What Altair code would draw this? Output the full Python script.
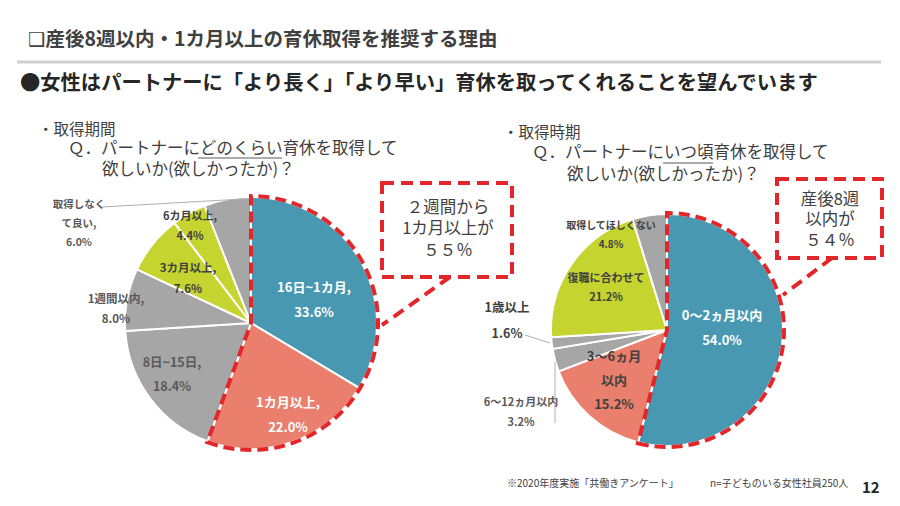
import altair as alt
import pandas as pd

FONT = "Noto Sans CJK JP, DejaVu Sans, sans-serif"
OX, OY = 8, 8  # page margin offset

# ---------------- data ----------------
left_categories = ["16日~1カ月", "1カ月以上", "8日~15日", "1週間以内", "3カ月以上", "6カ月以上", "取得しなくて良い"]
left_values = [33.6, 22.0, 18.4, 8.0, 7.6, 4.4, 6.0]
left_label_names = ["16日~1カ月,", "1カ月以上,", "8日~15日,", "1週間以内,", "3カ月以上,", "6カ月以上,", "取得しなく\nて良い,"]
left_highlight_n = 2

right_categories = ["0〜2ヵ月以内", "3〜6ヵ月以内", "6〜12ヵ月以内", "1歳以上", "復職に合わせて", "取得してほしくない"]
right_values = [54.0, 15.2, 3.2, 1.6, 21.2, 4.8]
right_label_names = ["0〜2ヵ月以内", "3〜6ヵ月\n以内", "6〜12ヵ月以内", "1歳以上", "復職に合わせて", "取得してほしくない"]
right_highlight_n = 1

# ---------------- styles ----------------
BLUE = "#4898b2"
SALMON = "#e97f6c"
GRAY = "#a6a6a6"
GREEN = "#c5d42e"
RED = "#e3262a"
DARK = "#404040"
MID = "#595959"
left_colors = [BLUE, SALMON, GRAY, GRAY, GREEN, GREEN, GRAY]
right_colors = [BLUE, SALMON, GRAY, GRAY, GREEN, GRAY]

LEFT_C = (251, 323, 126)
RIGHT_C = (667, 330, 116)

# label layout: (x, y_center, size, color, lineHeight)
left_label_layout = [
    (314, 300, 13, "white", 25),
    (288, 415, 13, "white", 25),
    (172, 375, 12.5, MID, 24),
    (116, 310, 11.5, MID, 20),
    (188, 279, 11.5, DARK, 21),
    (190, 227, 11, DARK, 20),
    (79, 224, 10.5, MID, 19),
]
right_label_layout = [
    (722, 328, 13, "white", 25),
    (614, 381, 13, DARK, 24),
    (521, 413, 11, MID, 20),
    (507, 321, 12.5, DARK, 26),
    (606, 288, 11, DARK, 19),
    (611, 235, 10, DARK, 19),
]


def pie_layer(cats, vals, colors, c):
    cx, cy, r = c
    df = pd.DataFrame({"cat": cats, "v": vals, "i": list(range(len(cats))), "col": colors})
    return alt.Chart(df).mark_arc(radius=r, stroke="white", strokeWidth=2).encode(
        theta=alt.Theta("v:Q", stack=True, scale=alt.Scale(domain=[0, 100])),
        order=alt.Order("i:Q"),
        color=alt.Color("col:N", scale=None),
        x=alt.value(cx - OX),
        y=alt.value(cy - OY),
    )


def outline_layer(cats, vals, n, c):
    cx, cy, r = c
    df = pd.DataFrame({"cat": cats, "v": vals, "i": list(range(len(cats)))})
    return (
        alt.Chart(df)
        .transform_filter(alt.datum.i < n)
        .transform_aggregate(v="sum(v)")
        .mark_arc(radius=r + 1, filled=False, stroke=RED, strokeWidth=4, strokeDash=[11, 6])
        .encode(
            theta=alt.Theta("v:Q", stack=True, scale=alt.Scale(domain=[0, 100])),
            x=alt.value(cx - OX),
            y=alt.value(cy - OY),
        )
    )


def text_layer(x, y, t, size, color, weight="normal", align="center", lh=None):
    n = t.count("\n") + 1
    if lh is None:
        lh = size * 1.25
    y0 = y - (n - 1) * lh / 2.0  # first-line position so the block is centred on y
    df = pd.DataFrame({"x": [x - OX], "y": [y0 - OY], "t": [t]})
    kw = dict(font=FONT, fontSize=size, color=color, fontWeight=weight, align=align,
              baseline="middle", lineBreak="\n", lineHeight=lh)
    return alt.Chart(df).mark_text(**kw).encode(
        x=alt.X("x:Q", scale=None, axis=None),
        y=alt.Y("y:Q", scale=None, axis=None),
        text="t:N",
    )


def rule_layer(x1, y1, x2, y2, color, width=1, dash=None):
    df = pd.DataFrame({"a": [0]})
    kw = dict(color=color, strokeWidth=width)
    if dash:
        kw["strokeDash"] = dash
    return alt.Chart(df).mark_rule(**kw).encode(
        x=alt.value(x1 - OX), y=alt.value(y1 - OY),
        x2=alt.value(x2 - OX), y2=alt.value(y2 - OY),
    )


def box_layer(x1, y1, x2, y2):
    df = pd.DataFrame({"a": [0]})
    return alt.Chart(df).mark_rect(filled=False, stroke=RED, strokeWidth=4, strokeDash=[12, 7]).encode(
        x=alt.value(x1 - OX), y=alt.value(y1 - OY),
        x2=alt.value(x2 - OX), y2=alt.value(y2 - OY),
    )


layers = []

# header
layers.append(text_layer(28, 40, "❑産後8週以内・1カ月以上の育休取得を推奨する理由", 19.5, DARK, "bold", "left"))
layers.append(rule_layer(17, 62, 881, 62, "#d0d0d0", 3))
layers.append(text_layer(20, 84, "●女性はパートナーに「より長く」「より早い」育休を取ってくれることを望んでいます", 20.3, "#262626", "bold", "left"))

# subtitles left
layers.append(text_layer(38, 130, "・取得期間", 15.5, DARK, "normal", "left"))
layers.append(text_layer(68, 149, "Ｑ．パートナーにどのくらい育休を取得して", 16.5, DARK, "normal", "left"))
layers.append(rule_layer(198, 158, 282, 158, MID, 1))
layers.append(text_layer(102, 170, "欲しいか(欲しかったか)？", 16.5, DARK, "normal", "left"))

# subtitles right
layers.append(text_layer(503, 133, "・取得時期", 15.5, DARK, "normal", "left"))
layers.append(text_layer(532, 153, "Ｑ．パートナーにいつ頃育休を取得して", 16.5, DARK, "normal", "left"))
layers.append(rule_layer(663, 163, 713, 163, MID, 1))
layers.append(text_layer(567, 175, "欲しいか(欲しかったか)？", 16.5, DARK, "normal", "left"))

# pies
layers.append(pie_layer(left_categories, left_values, left_colors, LEFT_C))
layers.append(pie_layer(right_categories, right_values, right_colors, RIGHT_C))
layers.append(outline_layer(left_categories, left_values, left_highlight_n, LEFT_C))
layers.append(outline_layer(right_categories, right_values, right_highlight_n, RIGHT_C))

# slice labels
for name, v, (x, y, s, col, lh) in zip(left_label_names, left_values, left_label_layout):
    layers.append(text_layer(x, y, f"{name}\n{v:.1f}%", s, col, "bold", "center", lh))
for name, v, (x, y, s, col, lh) in zip(right_label_names, right_values, right_label_layout):
    layers.append(text_layer(x, y, f"{name}\n{v:.1f}%", s, col, "bold", "center", lh))

# leader lines
layers.append(rule_layer(102, 207, 243, 199, "#b0b0b0", 1))
layers.append(rule_layer(525, 335, 550, 343, "#b0b0b0", 1))
layers.append(rule_layer(555, 362, 555, 423, "#b0b0b0", 1))

# callout boxes
layers.append(box_layer(382, 183, 512, 277))
layers.append(rule_layer(450, 277, 382, 325, RED, 4, [12, 7]))
layers.append(text_layer(448, 229, "２週間から\n1カ月以上が\n５５％", 16.5, DARK, "normal", "center", 21.5))

layers.append(box_layer(777, 179, 882, 258))
layers.append(rule_layer(832, 258, 783, 295, RED, 4, [12, 7]))
layers.append(text_layer(830, 220, "産後8週\n以内が\n５４％", 16.5, DARK, "normal", "center", 20.5))

# footer
layers.append(text_layer(507, 484, "※2020年度実施「共働きアンケート」", 10, DARK, "normal", "left"))
layers.append(text_layer(710, 484, "n=子どものいる女性社員250人", 10, DARK, "normal", "left"))
layers.append(text_layer(862, 488, "12", 15, "#262626", "bold", "left"))

chart = alt.layer(*layers).properties(
    width=884, height=490, padding=0, autosize=alt.AutoSizeParams(type="none"),
    background="white",
).configure_view(stroke=None)

chart.save("out.html", embed_options={"renderer": "svg", "actions": False})
